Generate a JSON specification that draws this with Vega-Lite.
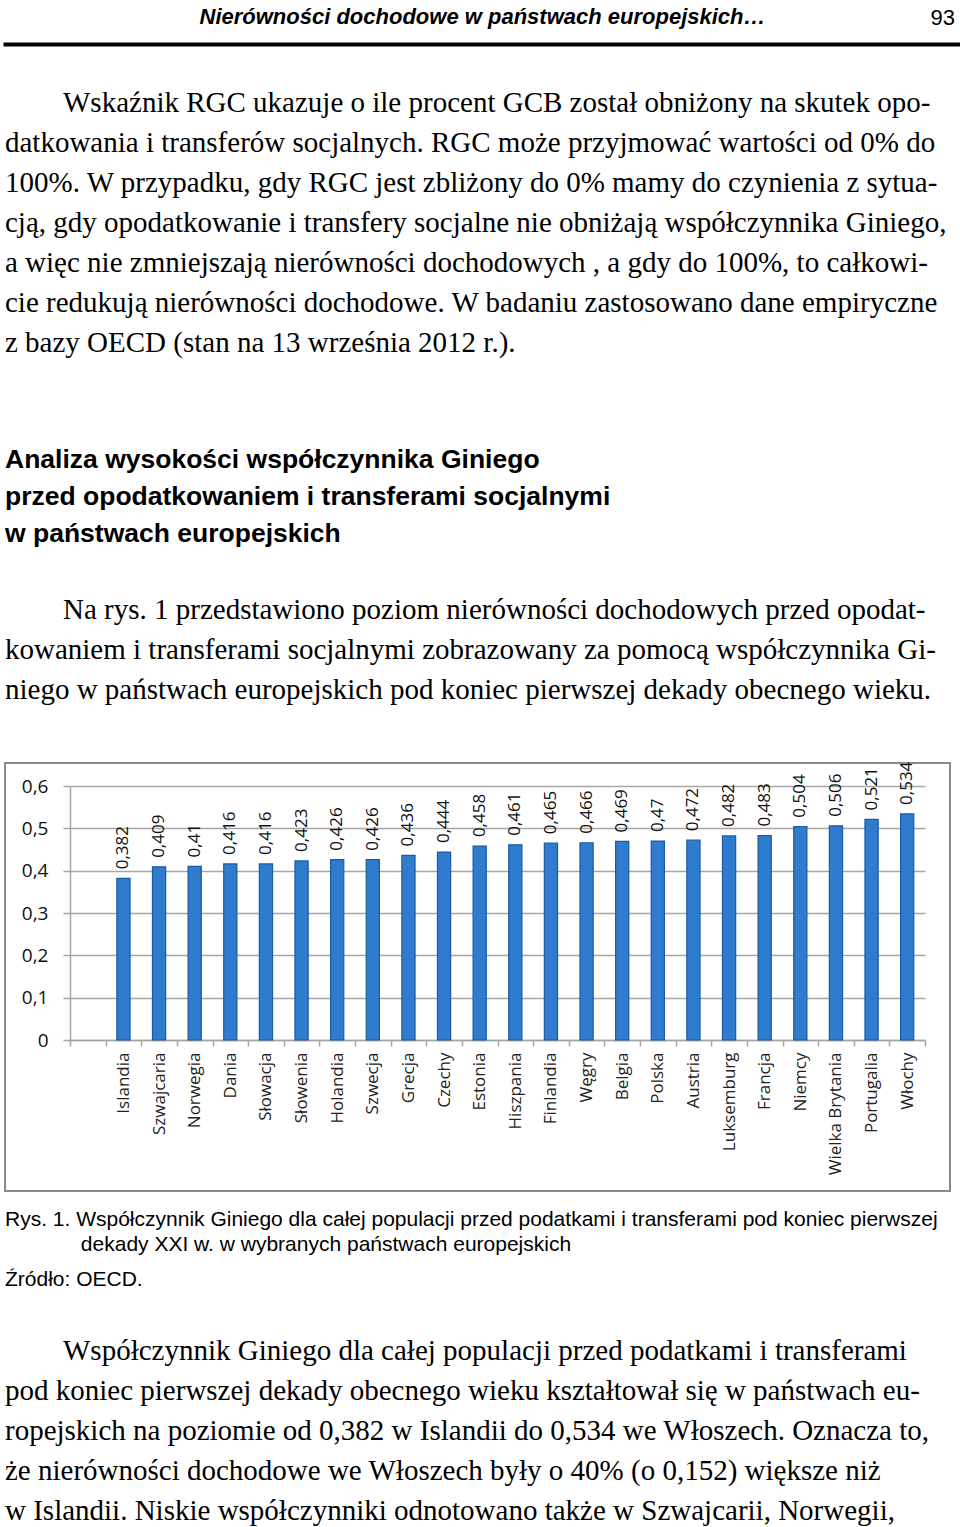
{
  "$schema": "https://vega.github.io/schema/vega-lite/v6.json",
  "padding": {"left": -5, "top": 4, "right": 0, "bottom": 0},
  "spacing": 0,
  "background": "white",
  "config": {
    "view": {"stroke": null},
    "concat": {"spacing": 0},
    "locale": {"number": {"decimal": ",", "thousands": " ", "grouping": [3], "currency": ["", " zł"]}}
  },
  "vconcat": [
    {
      "width": 955,
      "height": 1,
      "view": {"stroke": "#000000", "strokeWidth": 3},
      "title": {"text": "Nierówności dochodowe w państwach europejskich…", "anchor": "middle", "font": "Liberation Sans", "fontSize": 22, "fontStyle": "italic", "fontWeight": "bold", "color": "#000000", "offset": -22},
      "data": {"values": [{"page": "93"}]},
      "mark": {"type": "text", "align": "right", "baseline": "alphabetic", "font": "Liberation Sans", "fontSize": 22, "dx": -5, "dy": -19, "color": "#000000"},
      "encoding": {"text": {"field": "page"}, "x": {"value": "width"}, "y": {"value": 0}}
    },
    {
      "width": 955,
      "height": 41,
      "data": {"values": []},
      "mark": "point"
    },
    {
      "width": 955,
      "height": 49,
      "title": {
        "text": [
          "\u200b\u00a0\u00a0\u00a0\u00a0\u00a0\u00a0\u00a0\u00a0Wskaźnik RGC ukazuje o ile procent GCB został obniżony na skutek opo-",
          "datkowania i transferów socjalnych. RGC może przyjmować wartości od 0% do",
          "100%. W przypadku, gdy RGC jest zbliżony do 0% mamy do czynienia z sytua-",
          "cją, gdy opodatkowanie i transfery socjalne nie obniżają współczynnika Giniego,",
          "a więc nie zmniejszają nierówności dochodowych , a gdy do 100%, to całkowi-",
          "cie redukują nierówności dochodowe. W badaniu zastosowano dane empiryczne",
          "z bazy OECD (stan na 13 września 2012 r.)."
        ],
        "subtitle": [
          "Analiza wysokości współczynnika Giniego",
          "przed opodatkowaniem i transferami socjalnymi",
          "w państwach europejskich"
        ],
        "anchor": "start",
        "font": "Liberation Serif",
        "fontSize": 29,
        "fontWeight": "normal",
        "lineHeight": 40,
        "color": "#000000",
        "subtitleFont": "Liberation Sans",
        "subtitleFontSize": 26.5,
        "subtitleFontWeight": "bold",
        "subtitleLineHeight": 37,
        "subtitleColor": "#000000",
        "subtitlePadding": 89,
        "offset": 0
      },
      "data": {"values": []},
      "mark": "point"
    },
    {
      "width": 955,
      "height": 55,
      "title": {
        "text": [
          "\u200b\u00a0\u00a0\u00a0\u00a0\u00a0\u00a0\u00a0\u00a0Na rys. 1 przedstawiono poziom nierówności dochodowych przed opodat-",
          "kowaniem i transferami socjalnymi zobrazowany za pomocą współczynnika Gi-",
          "niego w państwach europejskich pod koniec pierwszej dekady obecnego wieku."
        ],
        "anchor": "start",
        "font": "Liberation Serif",
        "fontSize": 29,
        "fontWeight": "normal",
        "lineHeight": 40,
        "color": "#000000",
        "offset": 0
      },
      "data": {"values": []},
      "mark": "point"
    },
    {
      "width": 945,
      "height": 428,
      "view": {"stroke": "#8a8a8a", "strokeWidth": 2},
      "data": {
        "values": [
          {"kraj": "Islandia", "gini": 0.382},
          {"kraj": "Szwajcaria", "gini": 0.409},
          {"kraj": "Norwegia", "gini": 0.41},
          {"kraj": "Dania", "gini": 0.416},
          {"kraj": "Słowacja", "gini": 0.416},
          {"kraj": "Słowenia", "gini": 0.423},
          {"kraj": "Holandia", "gini": 0.426},
          {"kraj": "Szwecja", "gini": 0.426},
          {"kraj": "Grecja", "gini": 0.436},
          {"kraj": "Czechy", "gini": 0.444},
          {"kraj": "Estonia", "gini": 0.458},
          {"kraj": "Hiszpania", "gini": 0.461},
          {"kraj": "Finlandia", "gini": 0.465},
          {"kraj": "Węgry", "gini": 0.466},
          {"kraj": "Belgia", "gini": 0.469},
          {"kraj": "Polska", "gini": 0.47},
          {"kraj": "Austria", "gini": 0.472},
          {"kraj": "Luksemburg", "gini": 0.482},
          {"kraj": "Francja", "gini": 0.483},
          {"kraj": "Niemcy", "gini": 0.504},
          {"kraj": "Wielka Brytania", "gini": 0.506},
          {"kraj": "Portugalia", "gini": 0.521},
          {"kraj": "Włochy", "gini": 0.534}
        ]
      },
      "encoding": {
        "x": {
          "field": "kraj",
          "type": "nominal",
          "sort": null,
          "scale": {
            "domain": [" ", "Islandia", "Szwajcaria", "Norwegia", "Dania", "Słowacja", "Słowenia", "Holandia", "Szwecja", "Grecja", "Czechy", "Estonia", "Hiszpania", "Finlandia", "Węgry", "Belgia", "Polska", "Austria", "Luksemburg", "Francja", "Niemcy", "Wielka Brytania", "Portugalia", "Włochy"],
            "range": [65, 920],
            "paddingInner": 0,
            "paddingOuter": 0
          },
          "axis": {
            "orient": "bottom",
            "offset": -151,
            "title": null,
            "grid": false,
            "tickBand": "extent",
            "tickSize": 6,
            "tickColor": "#a6a6a6",
            "tickWidth": 1.5,
            "domainColor": "#a6a6a6",
            "domainWidth": 1.5,
            "labelAngle": -90,
            "labelFont": "Open Sans",
            "labelFontSize": 17,
            "labelColor": "#222222",
            "labelPadding": 6,
            "labelOverlap": false,
            "labelLimit": 0
          }
        },
        "y": {
          "field": "gini",
          "type": "quantitative",
          "scale": {"domain": [0, 0.6], "range": [277, 23], "nice": false, "zero": true},
          "axis": {
            "offset": -65,
            "title": null,
            "values": [0, 0.1, 0.2, 0.3, 0.4, 0.5, 0.6],
            "format": ".1~f",
            "grid": true,
            "gridColor": "#a6a6a6",
            "gridWidth": 1.5,
            "domainColor": "#a6a6a6",
            "domainWidth": 1.5,
            "tickColor": "#a6a6a6",
            "tickWidth": 1.5,
            "tickSize": 7,
            "labelPadding": 15,
            "labelFont": "Open Sans",
            "labelFontSize": 19,
            "labelColor": "#111111"
          }
        }
      },
      "layer": [
        {
          "mark": {"type": "bar", "width": {"band": 0.37}, "fill": "#2f7bcd", "stroke": "#1b5aa6", "strokeWidth": 1.2}
        },
        {
          "mark": {"type": "text", "angle": 270, "align": "left", "baseline": "middle", "dx": 9, "font": "Open Sans", "fontSize": 17, "color": "#111111"},
          "encoding": {"text": {"field": "gini", "type": "quantitative", "format": ".3~f"}}
        }
      ]
    },
    {
      "width": 955,
      "height": 17,
      "title": {
        "text": [
          "Rys. 1. Współczynnik Giniego dla całej populacji przed podatkami i transferami pod koniec pierwszej",
          "\u200b\u00a0\u00a0\u00a0\u00a0\u00a0\u00a0\u00a0\u00a0\u00a0\u00a0\u00a0\u00a0\u00a0dekady XXI w. w wybranych państwach europejskich"
        ],
        "subtitle": "Źródło: OECD.",
        "orient": "bottom",
        "anchor": "start",
        "font": "Liberation Sans",
        "fontSize": 21,
        "fontWeight": "normal",
        "lineHeight": 25,
        "color": "#000000",
        "subtitleFont": "Liberation Sans",
        "subtitleFontSize": 21,
        "subtitleColor": "#000000",
        "subtitlePadding": 14,
        "offset": 0
      },
      "data": {"values": []},
      "mark": "point"
    },
    {
      "width": 955,
      "height": 47,
      "title": {
        "text": [
          "\u200b\u00a0\u00a0\u00a0\u00a0\u00a0\u00a0\u00a0\u00a0Współczynnik Giniego dla całej populacji przed podatkami i transferami",
          "pod koniec pierwszej dekady obecnego wieku kształtował się w państwach eu-",
          "ropejskich na poziomie od 0,382 w Islandii do 0,534 we Włoszech. Oznacza to,",
          "że nierówności dochodowe we Włoszech były o 40% (o 0,152) większe niż",
          "w Islandii. Niskie współczynniki odnotowano także w Szwajcarii, Norwegii,"
        ],
        "orient": "bottom",
        "anchor": "start",
        "font": "Liberation Serif",
        "fontSize": 29,
        "fontWeight": "normal",
        "lineHeight": 40,
        "color": "#000000",
        "offset": 0
      },
      "data": {"values": []},
      "mark": "point"
    }
  ]
}
